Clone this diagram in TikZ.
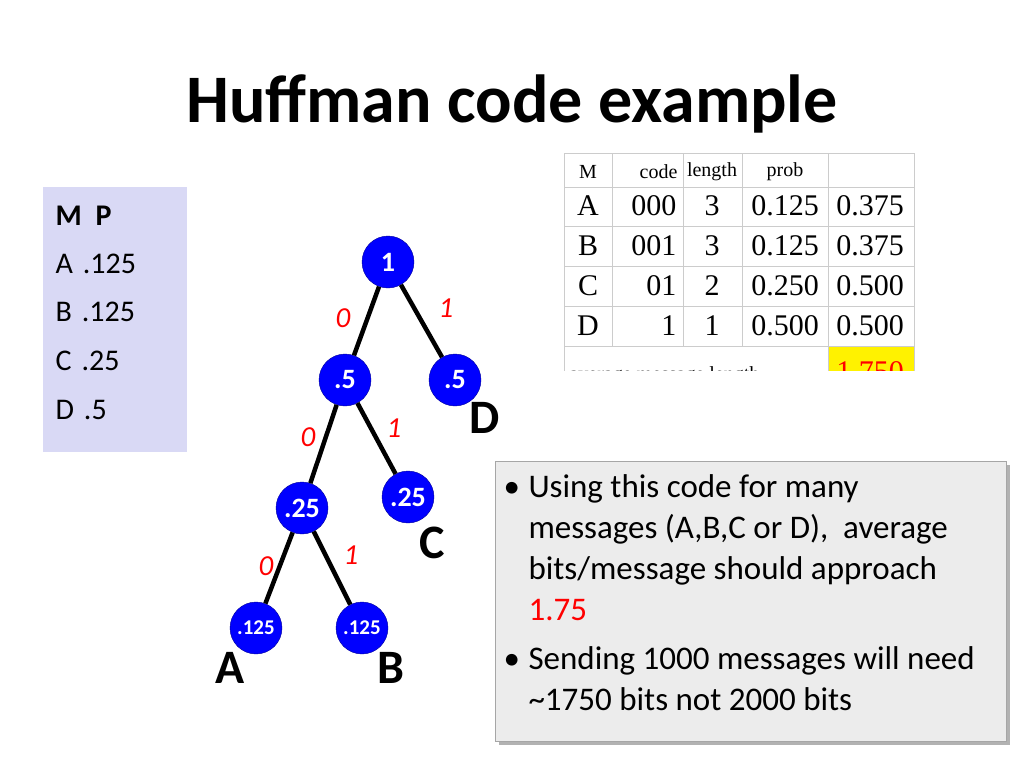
\documentclass[tikz,border=0pt]{standalone}
\usepackage{fontspec}
\setmainfont{Carlito}
\newfontfamily\tnr{Liberation Serif}
\begin{document}
\begin{tikzpicture}[x=1pt,y=-1pt,
  nd/.style={circle,fill=blue,draw=blue!60!black,minimum size=52pt,inner sep=0pt,text=white,font=\bfseries\fontsize{28}{28}\selectfont},
  sm/.style={nd,font=\bfseries\fontsize{21}{21}\selectfont},
  edge/.style={line width=4.5pt},
  bit/.style={text=red,font=\itshape\fontsize{29}{29}\selectfont},
  let/.style={font=\bfseries\fontsize{48}{48}\selectfont},
  lt/.style={font=\fontsize{30}{30}\selectfont,anchor=west},
  cell/.style={font=\tnr\fontsize{30}{30}\selectfont},
  hd/.style={font=\tnr\fontsize{20}{20}\selectfont}]
\useasboundingbox (0,0) rectangle (1024,768);
\node[font=\bfseries\fontsize{68}{68}\selectfont] (title) at (512,104) {Huffman code example};
% left box
\node[draw=none,fill={rgb,255:red,217;green,217;blue,245},minimum width=144pt,minimum height=265pt,anchor=north west] (pbox) at (43,187) {};
\node[lt,font=\bfseries\fontsize{30}{30}\selectfont] (mp) at (52,216) {M\hspace{14pt}P};
\node[lt] (pa) at (52,264) {A\hspace{10pt}.125};
\node[lt] (pb) at (52,312) {B\hspace{10pt}.125};
\node[lt] (pc) at (52,361) {C\hspace{10pt}.25};
\node[lt] (pd) at (52,410) {D\hspace{10pt}.5};
% tree
\node[nd] (r) at (388,262) {1};
\node[nd] (l1) at (345,380) {.5};
\node[nd] (r1) at (455,380) {.5};
\node[nd] (l2) at (302,508) {.25};
\node[nd] (r2) at (408,497) {.25};
\node[sm] (a) at (256,628) {.125};
\node[sm] (b) at (362,628) {.125};
\draw[edge] (r) -- (l1); \draw[edge] (r) -- (r1);
\draw[edge] (l1) -- (l2); \draw[edge] (l1) -- (r2);
\draw[edge] (l2) -- (a); \draw[edge] (l2) -- (b);
\node[bit] (b1) at (343,318) {0}; \node[bit] (b2) at (446,308) {1};
\node[bit] (b3) at (308,437) {0}; \node[bit] (b4) at (394,428) {1};
\node[bit] (b5) at (266,566) {0}; \node[bit] (b6) at (351,555) {1};
\node[let] (ld) at (485,418) {D};
\node[let] (lc) at (432,543) {C};
\node[let] (la) at (230,668) {A};
\node[let] (lb) at (391,668) {B};
% table
\begin{scope}
\clip (560,150) rectangle (920,370);
\fill[yellow] (828,346) rectangle (914,400);
\draw[gray!40,line width=1pt] (564,153) rectangle (914,400);
\foreach \y in {187,226,266,306,346} \draw[gray!40,line width=1pt] (564,\y) -- (914,\y);
\foreach \x in {612,683,742,828} \draw[gray!40,line width=1pt] (\x,153) -- (\x,346);
\draw[gray!40,line width=1pt] (828,346) -- (828,400);
\node[hd] (h1) at (588,172) {M};
\node[hd,anchor=east] (h2) at (681,172) {code};
\node[hd] (h3) at (712,172) {length};
\node[hd] (h4) at (785,172) {prob};
\foreach \r/\y/\m/\c/\l/\p/\q in {1/206/A/000/3/0.125/0.375,2/246/B/001/3/0.125/0.375,3/286/C/01/2/0.250/0.500,4/326/D/1/1/0.500/0.500}{
  \node[cell] (m\r) at (588,\y) {\m};
  \node[cell,anchor=east] (c\r) at (680,\y) {\c};
  \node[cell] (l\r) at (712,\y) {\l};
  \node[cell] (p\r) at (785,\y) {\p};
  \node[cell] (q\r) at (870,\y) {\q};
}
\node[hd,anchor=west] (avg) at (566,376) {average message length};
\node[cell,text=red] (tot) at (870,372) {1.750};
\end{scope}
% right box
\fill[gray!60] (499,465) rectangle (1010,745);
\node[draw=gray!70,fill=gray!15,minimum width=511pt,minimum height=280pt,anchor=north west] (tbox) at (495,461) {};
\node[anchor=north west,align=left,font=\fontsize{33}{41}\selectfont] (txt) at (500,471) {%
\makebox[25pt][l]{\textbullet}Using this code for many\\
\hspace*{25pt}messages (A,B,C or D),\ \ average\\
\hspace*{25pt}bits/message should approach\\
\hspace*{25pt}\textcolor{red}{1.75}\\[8pt]
\makebox[25pt][l]{\textbullet}Sending 1000 messages will need\\
\hspace*{25pt}\textasciitilde1750 bits not 2000 bits};
\end{tikzpicture}
\end{document}
